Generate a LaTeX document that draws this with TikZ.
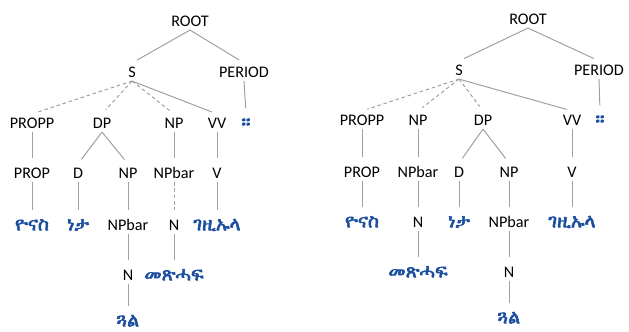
\documentclass[tikz,border=0pt]{standalone}
\usepackage{fontspec}
\usepackage{xcolor}
\setmainfont{Carlito}
\IfFontExistsTF{FreeSerif}
  {\newfontfamily\ethfont[FakeBold=3]{FreeSerif}}
  {\IfFontExistsTF{Abyssinica SIL}
    {\newfontfamily\ethfont[FakeBold=3]{Abyssinica SIL}}
    {\newfontfamily\ethfont{DejaVu Sans}}}
\definecolor{ethblue}{RGB}{28,78,160}
\newcommand{\catsize}{\fontsize{11.5}{13}\selectfont}
\newcommand{\ethsize}{\fontsize{13.5}{15}\selectfont}

\begin{document}
\begin{tikzpicture}[x=0.025cm,y=-0.025cm,
  cat/.style={font=\catsize, text height=7.5pt, text depth=0pt, inner sep=2.5pt},
  word/.style={cat, font=\ethsize\ethfont, text=ethblue},
  branch/.style={draw=gray!75, line width=0.7pt, shorten >=4pt},
  dbranch/.style={branch, dash pattern=on 2.5pt off 2pt}]
\useasboundingbox (0,0) rectangle (629,331);
% Left tree
\node[cat] (lroot) at (190,21) {ROOT};
\node[cat] (ls) at (132,72) {S};
\node[cat] (lperiod) at (244,72) {PERIOD};
\node[cat] (lpropp) at (32,123) {PROPP};
\node[cat] (ldp) at (102,123) {DP};
\node[cat] (lnp) at (174,123) {NP};
\node[cat] (lvv) at (217,123) {VV};
\node[word] (lstop) at (246,123) {።};
\node[cat] (lprop) at (32,173) {PROP};
\node[cat] (ld) at (78,173) {D};
\node[cat] (lnpa) at (128,173) {NP};
\node[cat] (lnpbara) at (174,173) {NPbar};
\node[cat] (lv) at (217,173) {V};
\node[word] (lyonas) at (32,225) {ዮናስ};
\node[word] (lneta) at (78,225) {ነታ};
\node[cat] (lnpbarb) at (128,225) {NPbar};
\node[cat] (lna) at (174,225) {N};
\node[word] (lgezi) at (217,225) {ገዚኡላ};
\node[cat] (lnb) at (128,275) {N};
\node[word] (lmets) at (174,275) {መጽሓፍ};
\node[word] (lgual) at (128,321) {ጓል};
\draw[branch] (lroot.south) -- (ls.north);
\draw[branch] (lroot.south) -- (lperiod.north);
\draw[dbranch] (ls.south) -- (lpropp.north);
\draw[dbranch] (ls.south) -- (ldp.north);
\draw[dbranch] (ls.south) -- (lnp.north);
\draw[branch] (ls.south) -- (lvv.north);
\draw[branch] (lperiod.south) -- (lstop.north);
\draw[branch] (lpropp.south) -- (lprop.north);
\draw[branch] (ldp.south) -- (ld.north);
\draw[branch] (ldp.south) -- (lnpa.north);
\draw[branch] (lnp.south) -- (lnpbara.north);
\draw[branch] (lvv.south) -- (lv.north);
\draw[branch] (lprop.south) -- (lyonas.north);
\draw[branch] (ld.south) -- (lneta.north);
\draw[branch] (lnpa.south) -- (lnpbarb.north);
\draw[dbranch] (lnpbara.south) -- (lna.north);
\draw[branch] (lv.south) -- (lgezi.north);
\draw[branch] (lnpbarb.south) -- (lnb.north);
\draw[branch] (lna.south) -- (lmets.north);
\draw[branch] (lnb.south) -- (lgual.north);
% Right tree
\node[cat] (rroot) at (528,19) {ROOT};
\node[cat] (rs) at (459,70) {S};
\node[cat] (rperiod) at (599,70) {PERIOD};
\node[cat] (rpropp) at (362,120) {PROPP};
\node[cat] (rnp) at (418,120) {NP};
\node[cat] (rdp) at (483,120) {DP};
\node[cat] (rvv) at (572,120) {VV};
\node[word] (rstop) at (600,120) {።};
\node[cat] (rprop) at (362,172) {PROP};
\node[cat] (rnpbara) at (418,172) {NPbar};
\node[cat] (rd) at (459,172) {D};
\node[cat] (rnpa) at (509,172) {NP};
\node[cat] (rv) at (572,172) {V};
\node[word] (ryonas) at (362,222) {ዮናስ};
\node[cat] (rna) at (418,222) {N};
\node[word] (rneta) at (459,222) {ነታ};
\node[cat] (rnpbarb) at (509,222) {NPbar};
\node[word] (rgezi) at (572,222) {ገዚኡላ};
\node[word] (rmets) at (418,272) {መጽሓፍ};
\node[cat] (rnb) at (509,272) {N};
\node[word] (rgual) at (509,318) {ጓል};
\draw[branch] (rroot.south) -- (rs.north);
\draw[branch] (rroot.south) -- (rperiod.north);
\draw[dbranch] (rs.south) -- (rpropp.north);
\draw[dbranch] (rs.south) -- (rnp.north);
\draw[dbranch] (rs.south) -- (rdp.north);
\draw[branch] (rs.south) -- (rvv.north);
\draw[branch] (rperiod.south) -- (rstop.north);
\draw[branch] (rpropp.south) -- (rprop.north);
\draw[branch] (rnp.south) -- (rnpbara.north);
\draw[branch] (rdp.south) -- (rd.north);
\draw[branch] (rdp.south) -- (rnpa.north);
\draw[branch] (rvv.south) -- (rv.north);
\draw[branch] (rprop.south) -- (ryonas.north);
\draw[branch] (rnpbara.south) -- (rna.north);
\draw[branch] (rd.south) -- (rneta.north);
\draw[branch] (rnpa.south) -- (rnpbarb.north);
\draw[branch] (rv.south) -- (rgezi.north);
\draw[branch] (rna.south) -- (rmets.north);
\draw[branch] (rnpbarb.south) -- (rnb.north);
\draw[branch] (rnb.south) -- (rgual.north);
\end{tikzpicture}
\end{document}
